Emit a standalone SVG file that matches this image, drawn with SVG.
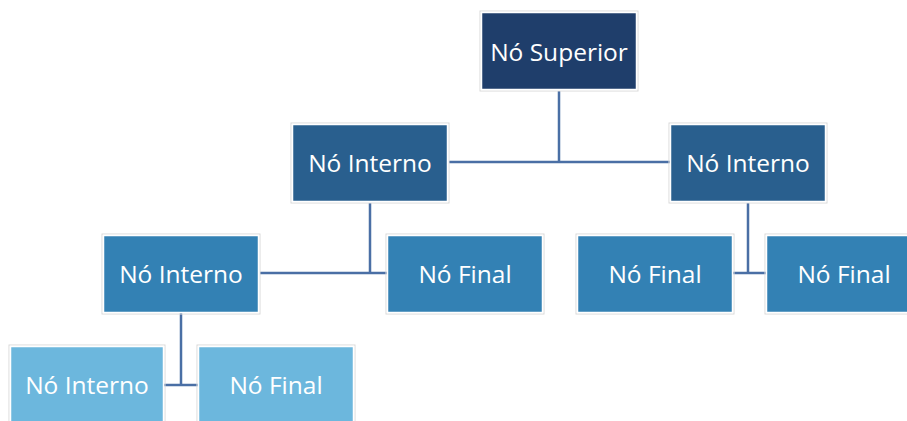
<svg xmlns="http://www.w3.org/2000/svg" width="907" height="421" viewBox="0 0 907 421">
<style>
.box{stroke:#ffffff;stroke-width:1.5}
.halo{fill:none;stroke:#dadada;stroke-width:1}
.l1{fill:#1f3e6b}
.l2{fill:#295f8e}
.l3{fill:#3381b4}
.l4{fill:#6cb7dd}
.t{font-family:"Open Sans","Liberation Sans",sans-serif;font-size:24.5px;fill:#ffffff;text-anchor:middle;dominant-baseline:central}
.c{fill:none;stroke:#4a6fa5;stroke-width:2.5}
</style>
<rect width="907" height="421" fill="#ffffff"/>
<g id="connectors">
<path class="c" d="M559 91V162M449 162H670"/>
<path class="c" d="M370 203V273M260 273H387"/>
<path class="c" d="M748 203V273M733 273H766"/>
<path class="c" d="M181 313V385M164 385H198"/>
</g>
<g id="n-superior">
<rect class="halo" x="480" y="11" width="158" height="80"/>
<rect class="box l1" x="481.5" y="12.5" width="155" height="77"/>
<text class="t" x="559" y="51">Nó Superior</text>
</g>
<g id="n-interno-a">
<rect class="halo" x="291" y="123" width="158" height="80"/>
<rect class="box l2" x="292.5" y="124.5" width="155" height="77"/>
<text class="t" x="370" y="162">Nó Interno</text>
</g>
<g id="n-interno-b">
<rect class="halo" x="669" y="123" width="158" height="80"/>
<rect class="box l2" x="670.5" y="124.5" width="155" height="77"/>
<text class="t" x="748" y="162">Nó Interno</text>
</g>
<g id="n-interno-c">
<rect class="halo" x="102" y="234" width="158" height="80"/>
<rect class="box l3" x="103.5" y="235.5" width="155" height="77"/>
<text class="t" x="181" y="273">Nó Interno</text>
</g>
<g id="n-final-a">
<rect class="halo" x="386" y="234" width="158" height="80"/>
<rect class="box l3" x="387.5" y="235.5" width="155" height="77"/>
<text class="t" x="465" y="273">Nó Final</text>
</g>
<g id="n-final-b">
<rect class="halo" x="576" y="234" width="158" height="80"/>
<rect class="box l3" x="577.5" y="235.5" width="155" height="77"/>
<text class="t" x="655" y="273">Nó Final</text>
</g>
<g id="n-final-c">
<rect class="halo" x="765" y="234" width="158" height="80"/>
<rect class="box l3" x="766.5" y="235.5" width="155" height="77"/>
<text class="t" x="844" y="273">Nó Final</text>
</g>
<g id="n-interno-d">
<rect class="halo" x="9" y="345" width="156" height="80"/>
<rect class="box l4" x="10.5" y="346.5" width="153" height="77"/>
<text class="t" x="87" y="384">Nó Interno</text>
</g>
<g id="n-final-d">
<rect class="halo" x="197" y="345" width="158" height="80"/>
<rect class="box l4" x="198.5" y="346.5" width="155" height="77"/>
<text class="t" x="276" y="384">Nó Final</text>
</g>
</svg>
